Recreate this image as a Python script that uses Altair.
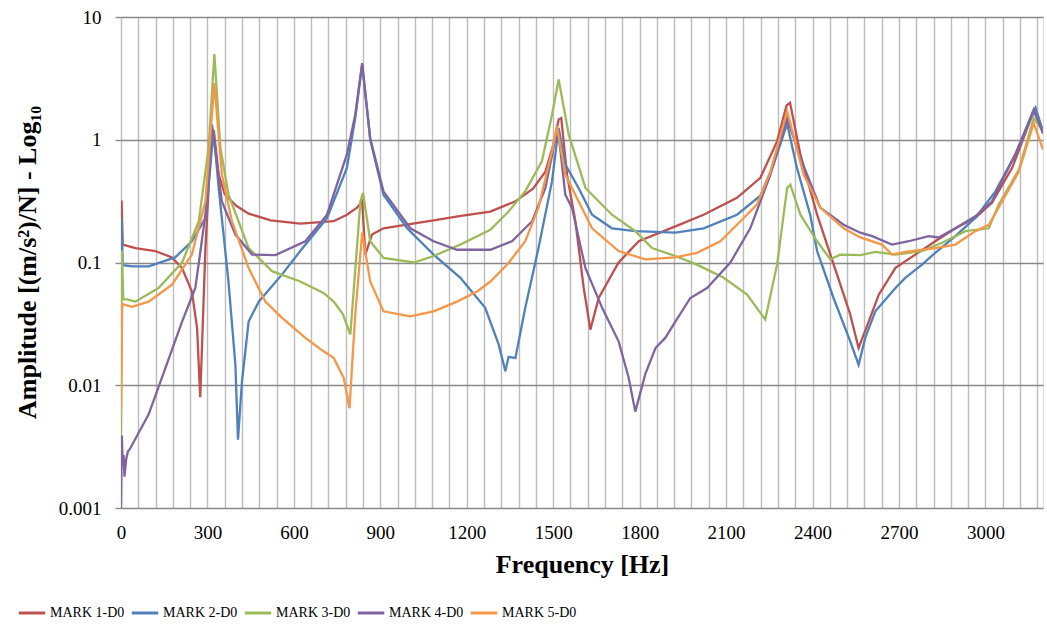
import altair as alt
import pandas as pd

series_names = ["MARK 1-D0", "MARK 2-D0", "MARK 3-D0", "MARK 4-D0", "MARK 5-D0"]
series_colors = ["#C0504D", "#4F81BD", "#9BBB59", "#8064A2", "#F79646"]

m1_freq = [0, 2, 6, 50, 119, 177, 212, 246, 264, 275, 293, 310, 322, 339, 360, 400, 443, 520, 622, 738, 784, 819, 837, 848, 871, 911, 970, 1085, 1180, 1282, 1369, 1430, 1473, 1500, 1519, 1528, 1548, 1577, 1606, 1629, 1658, 1727, 1797, 1924, 2022, 2138, 2219, 2277, 2310, 2322, 2358, 2416, 2485, 2531, 2560, 2595, 2630, 2688, 2757, 2826, 2896, 2965, 3023, 3093, 3168, 3200]
m1_amp = [0.2, 0.32, 0.14, 0.131, 0.124, 0.11, 0.09, 0.058, 0.0294, 0.008, 0.131, 0.72, 1.2, 0.52, 0.36, 0.29, 0.25, 0.22, 0.207, 0.217, 0.245, 0.28, 0.315, 0.116, 0.169, 0.19, 0.2, 0.22, 0.24, 0.26, 0.315, 0.4, 0.55, 0.9, 1.46, 1.5, 0.52, 0.217, 0.062, 0.0284, 0.0514, 0.1, 0.149, 0.197, 0.245, 0.336, 0.49, 0.97, 1.9, 2.0, 0.76, 0.245, 0.08, 0.0377, 0.0201, 0.033, 0.0547, 0.0904, 0.116, 0.149, 0.19, 0.231, 0.306, 0.59, 1.71, 1.17]

m2_freq = [0, 2, 6, 40, 96, 188, 246, 293, 310, 321, 339, 373, 397, 406, 420, 443, 478, 559, 622, 715, 784, 813, 837, 865, 911, 993, 1085, 1178, 1264, 1311, 1334, 1345, 1369, 1403, 1449, 1496, 1519, 1542, 1588, 1635, 1704, 1785, 1924, 2022, 2138, 2219, 2265, 2312, 2346, 2392, 2416, 2473, 2531, 2560, 2583, 2618, 2688, 2722, 2780, 2826, 2896, 2965, 3035, 3104, 3174, 3200]
m2_amp = [0.1, 0.23, 0.095, 0.093, 0.093, 0.11, 0.149, 0.23, 0.6, 1.2, 0.405, 0.07, 0.0147, 0.0036, 0.0108, 0.033, 0.048, 0.08, 0.124, 0.23, 0.59, 1.5, 4.1, 1.0, 0.357, 0.19, 0.116, 0.075, 0.0427, 0.0214, 0.013, 0.017, 0.0167, 0.0427, 0.131, 0.46, 1.25, 0.63, 0.405, 0.245, 0.19, 0.18, 0.175, 0.19, 0.245, 0.35, 0.63, 1.35, 0.59, 0.245, 0.124, 0.0514, 0.0228, 0.0147, 0.0243, 0.04, 0.062, 0.075, 0.096, 0.12, 0.164, 0.231, 0.38, 0.76, 1.82, 1.17]

m3_freq = [0, 3, 8, 21, 50, 130, 212, 270, 304, 324, 345, 373, 443, 524, 622, 703, 738, 770, 796, 831, 840, 865, 911, 1016, 1085, 1178, 1282, 1345, 1403, 1461, 1496, 1519, 1554, 1612, 1704, 1785, 1843, 1924, 1999, 2092, 2173, 2236, 2277, 2312, 2323, 2358, 2416, 2462, 2497, 2566, 2618, 2688, 2780, 2850, 2931, 3012, 3046, 3116, 3168, 3200]
m3_amp = [0.0035, 0.125, 0.05, 0.05, 0.048, 0.062, 0.1, 0.217, 0.86, 5.0, 0.86, 0.357, 0.131, 0.085, 0.07, 0.0565, 0.048, 0.038, 0.0259, 0.315, 0.37, 0.149, 0.109, 0.1, 0.113, 0.14, 0.185, 0.26, 0.38, 0.67, 1.6, 3.1, 1.1, 0.405, 0.245, 0.18, 0.131, 0.113, 0.096, 0.075, 0.0547, 0.0343, 0.096, 0.405, 0.43, 0.245, 0.149, 0.106, 0.116, 0.115, 0.122, 0.116, 0.124, 0.145, 0.18, 0.19, 0.296, 0.57, 1.5, 1.17]

m4_freq = [0, 3, 6, 9, 12, 18, 24, 30, 96, 154, 212, 258, 293, 316, 350, 397, 455, 536, 640, 715, 784, 813, 837, 865, 911, 1004, 1085, 1166, 1282, 1357, 1427, 1473, 1507, 1519, 1542, 1565, 1612, 1670, 1727, 1762, 1785, 1820, 1855, 1889, 1924, 1976, 2034, 2115, 2184, 2254, 2312, 2358, 2427, 2508, 2566, 2607, 2676, 2734, 2803, 2838, 2896, 2965, 3023, 3104, 3168, 3200]
m4_amp = [0.001, 0.0039, 0.0022, 0.0027, 0.0018, 0.0025, 0.0029, 0.003, 0.0058, 0.0138, 0.033, 0.062, 0.245, 1.33, 0.315, 0.169, 0.116, 0.115, 0.149, 0.245, 0.76, 1.6, 4.2, 1.03, 0.38, 0.19, 0.149, 0.127, 0.127, 0.149, 0.217, 0.405, 1.0, 1.1, 0.357, 0.28, 0.09, 0.0427, 0.0228, 0.0115, 0.0061, 0.0124, 0.0201, 0.0243, 0.033, 0.0514, 0.062, 0.1, 0.19, 0.52, 1.5, 0.71, 0.28, 0.203, 0.175, 0.164, 0.14, 0.149, 0.164, 0.16, 0.19, 0.238, 0.315, 0.76, 1.77, 1.12]

m5_freq = [0, 4, 9, 38, 96, 177, 246, 293, 324, 350, 385, 443, 501, 559, 640, 703, 738, 773, 793, 813, 837, 865, 911, 1004, 1085, 1166, 1236, 1282, 1345, 1403, 1449, 1496, 1513, 1542, 1588, 1635, 1727, 1820, 1924, 1999, 2080, 2150, 2207, 2254, 2312, 2369, 2427, 2508, 2566, 2641, 2676, 2722, 2826, 2896, 2965, 3012, 3058, 3116, 3168, 3200]
m5_amp = [0.0063, 0.046, 0.0455, 0.0435, 0.048, 0.066, 0.116, 0.315, 2.9, 0.52, 0.217, 0.09, 0.048, 0.0354, 0.0243, 0.0189, 0.0167, 0.0115, 0.0065, 0.0377, 0.175, 0.07, 0.04, 0.0364, 0.04, 0.048, 0.058, 0.07, 0.099, 0.149, 0.28, 0.81, 1.29, 0.52, 0.315, 0.19, 0.124, 0.106, 0.11, 0.12, 0.149, 0.217, 0.296, 0.55, 1.71, 0.52, 0.28, 0.19, 0.16, 0.14, 0.116, 0.122, 0.131, 0.14, 0.18, 0.203, 0.315, 0.55, 1.37, 0.83]

x_grid_values = list(range(0, 3181, 60))
y_tick_values = [0.001, 0.01, 0.1, 1, 10]

rows = []
for name, fr, am in zip(series_names,
                        [m1_freq, m2_freq, m3_freq, m4_freq, m5_freq],
                        [m1_amp, m2_amp, m3_amp, m4_amp, m5_amp]):
    for i, (f, a) in enumerate(zip(fr, am)):
        rows.append({"series": name, "freq": f, "amp": a, "order": i})
df = pd.DataFrame(rows)

FONT = "Liberation Serif"

chart = alt.Chart(df).mark_line(strokeWidth=2.3, clip=True).encode(
    x=alt.X("freq:Q",
            scale=alt.Scale(domain=[0, 3200], nice=False, zero=False),
            axis=alt.Axis(values=x_grid_values, title="Frequency [Hz]",
                          labelExpr="datum.value % 300 == 0 ? datum.label : ''",
                          format="d", grid=True, gridColor="#BCBCBC", gridWidth=1.4,
                          ticks=False, domain=False, labelPadding=15,
                          labelFontSize=19, labelFont=FONT, labelColor="#000000",
                          labelFlush=False, labelOverlap=False,
                          titleFont=FONT, titleFontSize=26, titleFontWeight="bold",
                          titleColor="#000000", titlePadding=9)),
    y=alt.Y("amp:Q",
            scale=alt.Scale(type="log", domain=[0.001, 10], nice=False),
            axis=alt.Axis(values=y_tick_values, format="~g",
                          title="Amplitude [(m/s²)/N] - Log₁₀",
                          grid=True, gridColor="#898989", gridWidth=1.4,
                          ticks=True, tickSize=6, tickColor="#898989", tickWidth=1.4,
                          domain=False, labelPadding=14,
                          labelFontSize=19, labelFont=FONT, labelColor="#000000",
                          titleFont=FONT, titleFontSize=26, titleFontWeight="bold",
                          titleColor="#000000", titleX=-94, titleY=245,
                          titleAlign="center", titleBaseline="middle", titleAngle=270)),
    color=alt.Color("series:N",
                    scale=alt.Scale(domain=series_names, range=series_colors),
                    legend=alt.Legend(title=None, orient="none", direction="horizontal",
                                      columns=5, legendX=-104, legendY=581,
                                      symbolType="stroke", symbolSize=700,
                                      symbolStrokeWidth=3, labelFont=FONT,
                                      labelFontSize=14, labelColor="#000000",
                                      labelOffset=3, columnPadding=0)),
    order=alt.Order("order:Q"),
).properties(
    width=922, height=491,
    autosize=alt.AutoSizeParams(type="none"),
    padding={"left": 121, "top": 17, "right": 4, "bottom": 117},
).configure_view(stroke=None).configure(background="white")

chart.save("out.html", embed_options={"renderer": "svg", "actions": False})
